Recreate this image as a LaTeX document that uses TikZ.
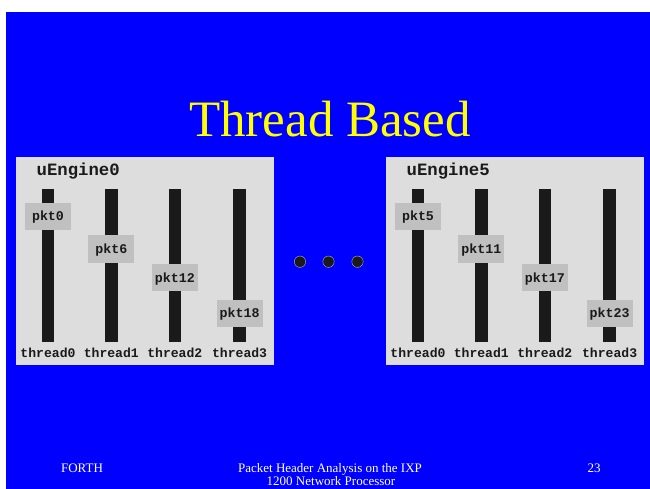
\documentclass[tikz,border=0pt]{standalone}
\usepackage{fontspec}
\setmainfont{Liberation Serif}
\newfontfamily\monob{Liberation Mono}
\definecolor{slideblue}{HTML}{0000FF}
\definecolor{titleyellow}{HTML}{FFFF00}
\definecolor{engfill}{HTML}{DDDDDD}
\definecolor{pktfill}{HTML}{C0C0C0}
\definecolor{bardark}{HTML}{1A1A1A}
\tikzset{
  slidetitle/.style={text=titleyellow, font=\fontsize{51bp}{60bp}\selectfont, inner sep=0pt, anchor=base},
  footer/.style={text=white, font=\fontsize{13bp}{15bp}\selectfont, inner sep=0pt, anchor=base},
  engbox/.style={fill=engfill, draw=none, minimum width=258bp, minimum height=208bp, inner sep=0pt},
  englabel/.style={text=bardark, font=\monob\bfseries\fontsize{17.3bp}{20bp}\selectfont, inner sep=0pt, anchor=base west},
  threadbar/.style={fill=bardark, draw=none, minimum width=12.6bp, minimum height=153bp, inner sep=0pt},
  pktbox/.style={fill=pktfill, draw=none, minimum width=46bp, minimum height=27bp, inner sep=0pt,
    text height=8.8bp, text depth=0pt, text=bardark, font=\monob\bfseries\fontsize{13.3bp}{15bp}\selectfont},
  threadlabel/.style={text=bardark, font=\monob\bfseries\fontsize{13.1bp}{15bp}\selectfont, inner sep=0pt, anchor=base},
  dotmark/.style={circle, fill=bardark, draw=gray!60, line width=0.4bp, minimum size=11.4bp, inner sep=0pt}
}
\begin{document}
\begin{tikzpicture}[x=1bp,y=-1bp]
\useasboundingbox (0,0) rectangle (650,489);
\fill[slideblue] (6,12) rectangle (650,489);
\node[slidetitle] (title) at (330,137) {Thread Based};

\foreach \e/\dx/\pa/\pb/\pc/\pd in {0/0/0/6/12/18, 5/370/5/11/17/23}{
  \node[engbox] (box\e) at (145+\dx,261) {};
  \node[englabel] (lab\e) at (36.5+\dx,176) {uEngine\e};
  \foreach \t/\cx/\py/\pn in {0/48/216.3/\pa, 1/111.3/249/\pb, 2/174.8/277.7/\pc, 3/239.6/313.3/\pd}{
    \node[threadbar] (bar\e-\t) at (\cx+\dx,265.5) {};
    \node[pktbox] (pkt\e-\t) at (\cx+\dx,\py) {pkt\pn};
    \node[threadlabel] (thr\e-\t) at (\cx+\dx,357) {thread\t};
  }
}

\node[dotmark] (dot1) at (300,261.7) {};
\node[dotmark] (dot2) at (328.5,261.7) {};
\node[dotmark] (dot3) at (357.5,261.7) {};

\node[footer] (forth) at (82,472.5) {FORTH};
\node[footer] (foot1) at (330,472.5) {Packet Header Analysis on the IXP};
\node[footer] (foot2) at (331,485.5) {1200 Network Processor};
\node[footer] (page) at (594,472.5) {23};
\end{tikzpicture}
\end{document}
